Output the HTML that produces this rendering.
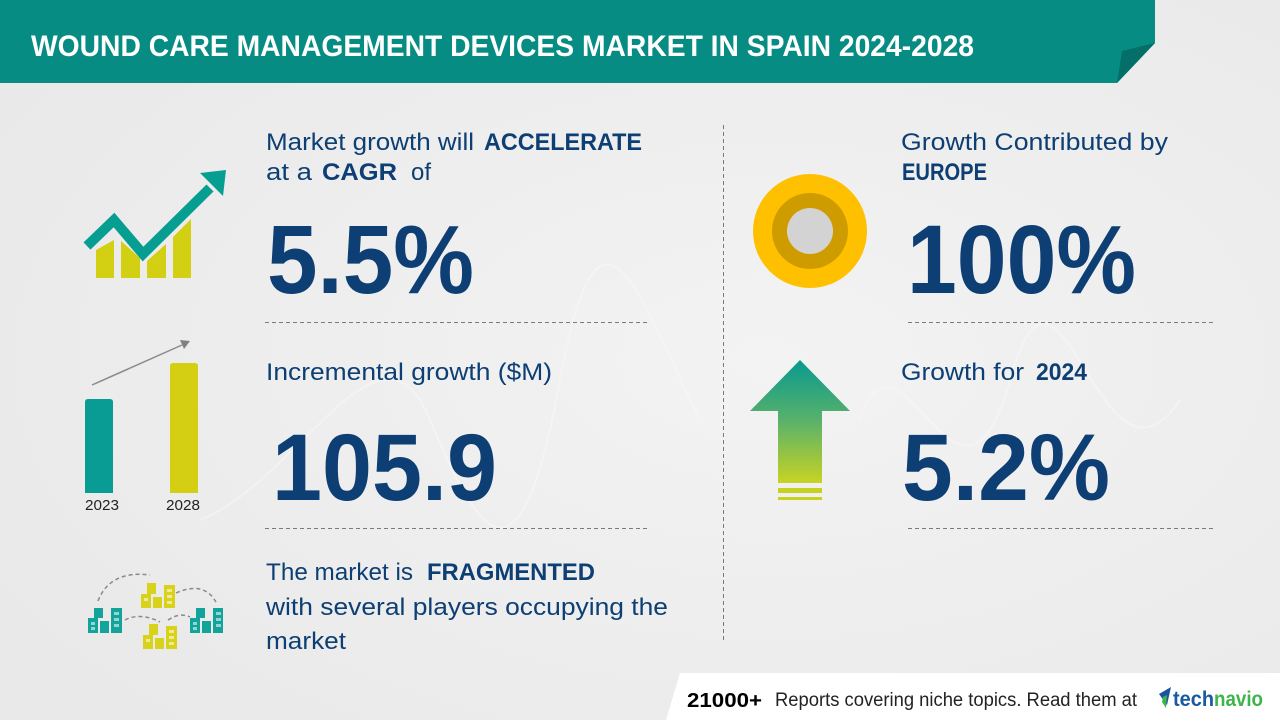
<!DOCTYPE html>
<html><head><meta charset="utf-8">
<style>
html,body{margin:0;padding:0;width:1280px;height:720px;overflow:hidden;background:#eeeeee;}
svg{display:block;}
text{font-family:"Liberation Sans",Arial,sans-serif;}
</style></head>
<body>
<svg width="1280" height="720" viewBox="0 0 1280 720" xmlns="http://www.w3.org/2000/svg">
<defs>
<radialGradient id="bg" cx="0.6" cy="0.5" r="0.7">
<stop offset="0" stop-color="#f3f3f3"/>
<stop offset="1" stop-color="#e9e9e9"/>
</radialGradient>
<linearGradient id="arr" x1="0" y1="0" x2="0" y2="1">
<stop offset="0" stop-color="#08998f"/>
<stop offset="0.5" stop-color="#5ab26a"/>
<stop offset="1" stop-color="#c8d324"/>
</linearGradient>
</defs>
<rect x="0" y="0" width="1280" height="720" fill="url(#bg)"/>
<g fill="none" stroke="#f7f7f7" stroke-width="2" opacity="0.6">
<path d="M200 520 C 300 480, 380 300, 430 420 S 520 600, 560 380 S 640 300, 700 420"/>
<path d="M860 420 C 900 300, 960 560, 1010 380 S 1100 520, 1180 400"/>
</g>

<!-- header -->
<polygon points="0,0 1155,0 1155,43 1117,83 0,83" fill="#078c84"/>
<polygon points="1122,51 1155,43 1117,83" fill="#046e68"/>
<text x="31" y="56" font-size="30" font-weight="bold" fill="#ffffff" textLength="943" lengthAdjust="spacingAndGlyphs">WOUND CARE MANAGEMENT DEVICES MARKET IN SPAIN 2024-2028</text>

<!-- growth chart icon -->
<g fill="#d3cf12">
<polygon points="96,250 114,240 114,278 96,278"/>
<polygon points="121,241 140,258 140,278 121,278"/>
<polygon points="147,261 166,244 166,278 147,278"/>
<polygon points="173,237 191,219 191,278 173,278"/>
</g>
<polyline points="87,246 114,220 143,254 210,188" fill="none" stroke="#079e92" stroke-width="10" stroke-linejoin="miter"/>
<polygon points="200,173 226,170 223,196" fill="#079e92"/>

<!-- bar chart icon -->
<path d="M85,402 q0,-3 3,-3 h22 q3,0 3,3 v91 h-28 z" fill="#089c94"/>
<path d="M170,366 q0,-3 3,-3 h22 q3,0 3,3 v127 h-28 z" fill="#d4cf12"/>
<line x1="92" y1="385" x2="182" y2="345" stroke="#8a8a8a" stroke-width="1.5"/>
<polygon points="180,340 190,341 184,349" fill="#808080"/>
<text x="85" y="510" font-size="15" fill="#222" textLength="34" lengthAdjust="spacingAndGlyphs">2023</text>
<text x="166" y="510" font-size="15" fill="#222" textLength="34" lengthAdjust="spacingAndGlyphs">2028</text>

<!-- buildings icon -->
<g fill="none" stroke="#8a8a8a" stroke-width="1.5" stroke-dasharray="4,3">
<path d="M98,601 Q110,570 150,575"/>
<path d="M176,593 Q205,580 217,604"/>
<path d="M125,620 Q140,612 160,622"/>
<path d="M168,620 Q180,612 190,617"/>
</g>
<g fill="#12a39a">
<rect x="94" y="608" width="9" height="10"/>
<rect x="88" y="618" width="10" height="15"/>
<rect x="100" y="621" width="9" height="12"/>
<rect x="111" y="608" width="11" height="25"/>
<rect x="196" y="608" width="9" height="10"/>
<rect x="190" y="618" width="10" height="15"/>
<rect x="202" y="621" width="9" height="12"/>
<rect x="213" y="608" width="10" height="25"/>
</g>
<g fill="#d8d21a">
<rect x="147" y="583" width="9" height="11"/>
<rect x="141" y="594" width="10" height="14"/>
<rect x="153" y="597" width="9" height="11"/>
<rect x="164" y="585" width="11" height="23"/>
<rect x="149" y="624" width="9" height="11"/>
<rect x="143" y="635" width="10" height="14"/>
<rect x="155" y="638" width="9" height="11"/>
<rect x="166" y="626" width="11" height="23"/>
</g>
<g fill="#ffffff" opacity="0.55">
<rect x="91" y="622" width="4" height="3"/><rect x="91" y="627" width="4" height="3"/>
<rect x="114" y="612" width="5" height="3"/><rect x="114" y="618" width="5" height="3"/><rect x="114" y="624" width="5" height="3"/>
<rect x="193" y="622" width="4" height="3"/><rect x="193" y="627" width="4" height="3"/>
<rect x="216" y="612" width="5" height="3"/><rect x="216" y="618" width="5" height="3"/><rect x="216" y="624" width="5" height="3"/>
<rect x="144" y="598" width="4" height="3"/><rect x="167" y="589" width="5" height="3"/><rect x="167" y="595" width="5" height="3"/><rect x="167" y="601" width="5" height="3"/>
<rect x="146" y="639" width="4" height="3"/><rect x="169" y="630" width="5" height="3"/><rect x="169" y="636" width="5" height="3"/><rect x="169" y="642" width="5" height="3"/>
</g>

<!-- left texts -->
<g fill="#0d3f74">
<text x="266" y="150" font-size="24" textLength="208" lengthAdjust="spacingAndGlyphs">Market growth will</text>
<text x="484" y="150" font-size="24" font-weight="bold" textLength="158" lengthAdjust="spacingAndGlyphs">ACCELERATE</text>
<text x="266" y="180" font-size="24" textLength="46" lengthAdjust="spacingAndGlyphs">at a</text>
<text x="322" y="180" font-size="24" font-weight="bold" textLength="75" lengthAdjust="spacingAndGlyphs">CAGR</text>
<text x="411" y="180" font-size="24" textLength="20" lengthAdjust="spacingAndGlyphs">of</text>
<text x="267" y="293" font-size="97" font-weight="bold" textLength="207" lengthAdjust="spacingAndGlyphs">5.5%</text>
<text x="266" y="380" font-size="24" textLength="286" lengthAdjust="spacingAndGlyphs">Incremental growth ($M)</text>
<text x="272" y="500" font-size="95" font-weight="bold" textLength="225" lengthAdjust="spacingAndGlyphs">105.9</text>
<text x="266" y="580" font-size="24" textLength="147" lengthAdjust="spacingAndGlyphs">The market is</text>
<text x="427" y="580" font-size="24" font-weight="bold" textLength="168" lengthAdjust="spacingAndGlyphs">FRAGMENTED</text>
<text x="266" y="615" font-size="24" textLength="402" lengthAdjust="spacingAndGlyphs">with several players occupying the</text>
<text x="266" y="649" font-size="24" textLength="80" lengthAdjust="spacingAndGlyphs">market</text>
</g>

<!-- right texts -->
<g fill="#0d3f74">
<text x="901" y="150" font-size="24" textLength="267" lengthAdjust="spacingAndGlyphs">Growth Contributed by</text>
<text x="902" y="180" font-size="24" font-weight="bold" textLength="85" lengthAdjust="spacingAndGlyphs">EUROPE</text>
<text x="907" y="293" font-size="97" font-weight="bold" textLength="229" lengthAdjust="spacingAndGlyphs">100%</text>
<text x="901" y="380" font-size="24" textLength="123" lengthAdjust="spacingAndGlyphs">Growth for</text>
<text x="1036" y="380" font-size="24" font-weight="bold" textLength="51" lengthAdjust="spacingAndGlyphs">2024</text>
<text x="902" y="500" font-size="95" font-weight="bold" textLength="208" lengthAdjust="spacingAndGlyphs">5.2%</text>
</g>

<!-- dashed lines -->
<g stroke="#7a7a7a" stroke-width="1" stroke-dasharray="4,3">
<line x1="265" y1="322.5" x2="648" y2="322.5"/>
<line x1="265" y1="528.5" x2="648" y2="528.5"/>
<line x1="908" y1="322.5" x2="1214" y2="322.5"/>
<line x1="908" y1="528.5" x2="1214" y2="528.5"/>
<line x1="723.5" y1="125" x2="723.5" y2="642"/>
</g>

<!-- target circle icon -->
<circle cx="810" cy="231" r="57" fill="#ffc000"/>
<circle cx="810" cy="231" r="38" fill="#cf9c00"/>
<circle cx="810" cy="231" r="23" fill="#d3d3d3"/>

<!-- up arrow icon -->
<polygon points="800,360 850,411 822,411 822,483 778,483 778,411 750,411" fill="url(#arr)"/>
<rect x="778" y="488" width="44" height="5" fill="#c6d21e"/>
<rect x="778" y="497" width="44" height="3" fill="#c6d21e"/>

<!-- footer -->
<polygon points="666,720 680,673 1280,673 1280,720" fill="#ffffff"/>
<text x="687" y="707" font-size="20" font-weight="bold" fill="#000" textLength="75" lengthAdjust="spacingAndGlyphs">21000+</text>
<text x="775" y="706" font-size="19" fill="#222" textLength="362" lengthAdjust="spacingAndGlyphs">Reports covering niche topics. Read them at</text>
<polygon points="1159,694 1171,687 1167,705" fill="#1a54a0"/>
<polygon points="1163,697 1167,695 1166,708 1162,702" fill="#3db54a"/>
<text x="1173" y="706" font-size="21" font-weight="bold" fill="#1a5aa0" textLength="41" lengthAdjust="spacingAndGlyphs">tech</text>
<text x="1214" y="706" font-size="21" font-weight="bold" fill="#3db54a" textLength="49" lengthAdjust="spacingAndGlyphs">navio</text>
</svg>
</body></html>
